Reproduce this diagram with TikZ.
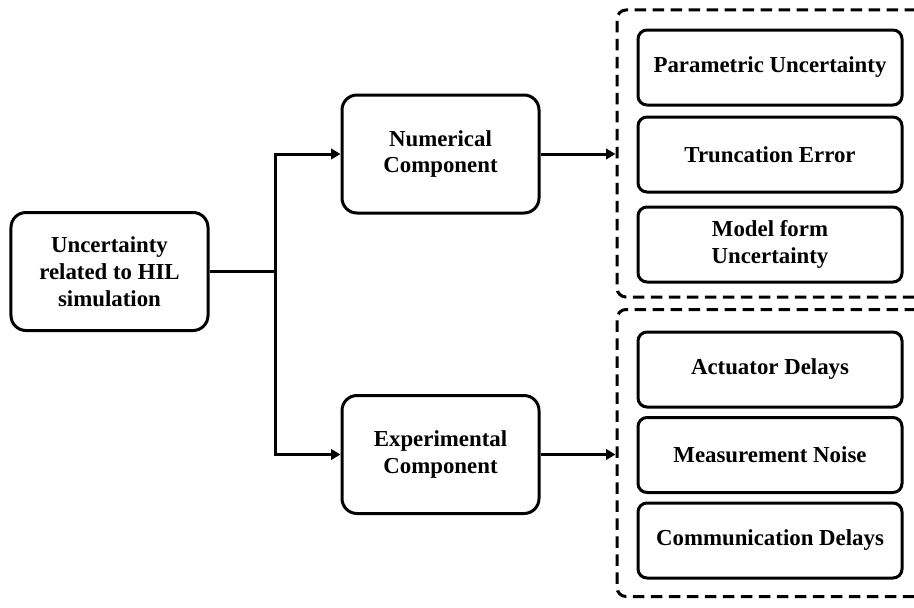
\documentclass[tikz,border=0pt]{standalone}
\usepackage{fontspec}
\setmainfont{Liberation Serif}
\usetikzlibrary{positioning,arrows.meta,calc,fit}

\begin{document}
\begin{tikzpicture}[x=0.2mm, y=-0.2mm,
  font=\bfseries\fontsize{13}{15.3}\selectfont,
  box/.style  = {draw=black, line width=0.6mm, rounded corners=3mm, fill=white, align=center,
                 inner sep=1mm, minimum width=39.4mm, minimum height=23.6mm},
  leaf/.style = {box, rounded corners=1.8mm, minimum width=52.8mm, minimum height=15mm},
  grp/.style  = {draw=black, line width=0.6mm, dash pattern=on 2.3mm off 1.3mm,
                 rounded corners=1.8mm, minimum width=61.6mm, minimum height=57.4mm},
  arr/.style  = {-{Triangle[length=1.9mm,width=2.1mm]}, line width=0.6mm},
  line/.style = {line width=0.6mm}]

\useasboundingbox (0,0) rectangle (914,607);

% source and the two components
\node[box] (hil) at (109.5,271.5) {Uncertainty\\related to HIL\\simulation};
\node[box] (num) at (440.5,154)   {Numerical\\Component};
\node[box] (exp) at (440.5,454.5) {Experimental\\Component};

% dashed groups (run past the right edge)
\node[grp] (numgrp) at (771,153.5) {};
\node[grp] (expgrp) at (771,453)   {};

\foreach \n/\y/\t in {par/67.5/{Parametric Uncertainty}, trc/154.5/{Truncation Error},
                      mdl/244.5/{Model form\\Uncertainty}, act/369.5/{Actuator Delays},
                      mns/455/{Measurement Noise}, com/540.5/{Communication Delays}}
  \node[leaf] (\n) at (770,\y) {\t};

% fan-out from the source
\coordinate (split) at (275,271.5);
\draw[line] (hil.east) -- (split);
\draw[arr] (split) |- (num.west);
\draw[arr] (split) |- (exp.west);

\draw[arr] (num.east) -- (num.east -| numgrp.west);
\draw[arr] (exp.east) -- (exp.east -| expgrp.west);

\end{tikzpicture}
\end{document}
